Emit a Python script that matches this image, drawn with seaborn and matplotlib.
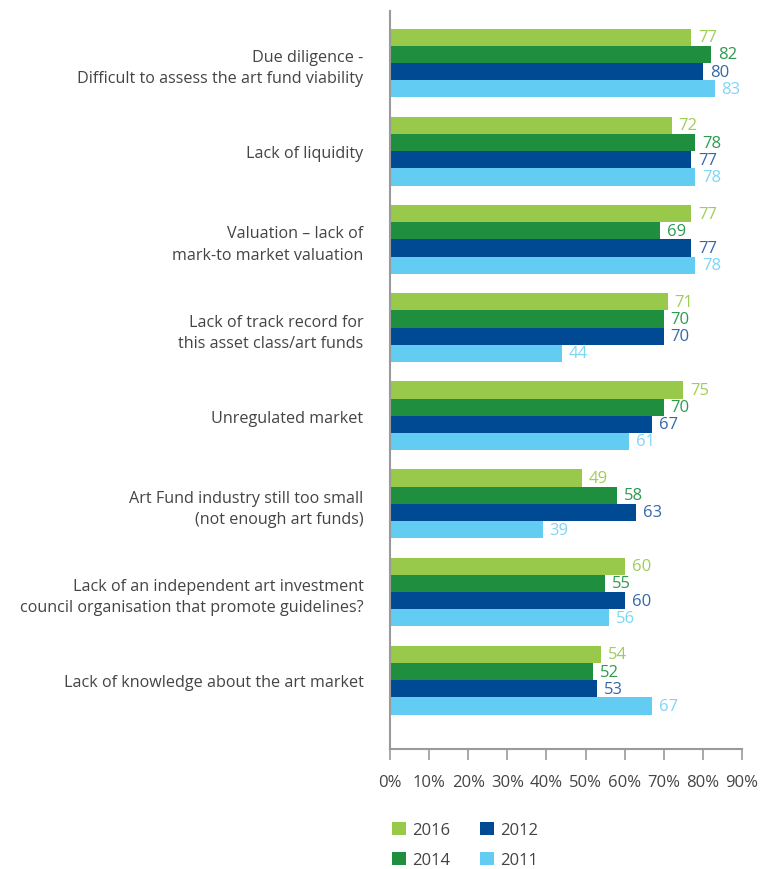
"""Art fund concerns survey: grouped horizontal bars by year."""

import matplotlib

matplotlib.use("Agg")
import matplotlib.pyplot as plt  # noqa: E402
import pandas as pd
import seaborn as sns
from matplotlib.patches import Patch

categories = [
    "Due diligence -\nDifficult to assess the art fund viability",
    "Lack of liquidity",
    "Valuation \u2013 lack of\nmark-to market valuation",
    "Lack of track record for\nthis asset class/art funds",
    "Unregulated market",
    "Art Fund industry still too small\n(not enough art funds)",
    "Lack of an independent art investment\ncouncil organisation that promote guidelines?",
    "Lack of knowledge about the art market",
]
years = ["2016", "2014", "2012", "2011"]
values_2016 = [77, 72, 77, 71, 75, 49, 60, 54]
values_2014 = [82, 78, 69, 70, 70, 58, 55, 52]
values_2012 = [80, 77, 77, 70, 67, 63, 60, 53]
values_2011 = [83, 78, 78, 44, 61, 39, 56, 67]
x_ticks = [0, 10, 20, 30, 40, 50, 60, 70, 80, 90]

bar_colors = ["#98C94A", "#1F8F3F", "#004A94", "#62CCF2"]
label_colors = ["#9FCE55", "#2E9A50", "#3568A8", "#7ED6F5"]

series = {"2016": values_2016, "2014": values_2014, "2012": values_2012, "2011": values_2011}
rows = []
for year, vals in series.items():
    for cat, v in zip(categories, vals):
        rows.append({"category": cat, "year": year, "value": v})
df = pd.DataFrame(rows)

sns.set_theme(style="white")
plt.rcParams["font.family"] = ["Open Sans", "DejaVu Sans"]

fig = plt.figure(figsize=(7.68, 8.7), dpi=100)
ax = fig.add_axes([390 / 768, 120 / 870, 352 / 768, 738 / 870])

sns.barplot(
    data=df, y="category", x="value", hue="year", hue_order=years,
    order=categories, palette=bar_colors, orient="h", width=0.78,
    saturation=1, linewidth=0, ax=ax, legend=False,
)

for cont, col in zip(ax.containers, label_colors):
    ax.bar_label(cont, fmt="%d", padding=5, color=col, fontsize=12)

ax.set_xlim(0, 90)
ax.set_ylim(7.78, -0.59)
ax.set_xticks(x_ticks)
ax.set_xticklabels([f"{t}%" for t in x_ticks])
ax.set_xlabel("")
ax.set_ylabel("")

for side in ["top", "right"]:
    ax.spines[side].set_visible(False)
for side in ["left", "bottom"]:
    ax.spines[side].set_color("#9A9A9A")
    ax.spines[side].set_linewidth(1.5)

ax.tick_params(axis="x", direction="out", length=8, width=1.2, color="#9A9A9A",
               pad=10, labelsize=12, labelcolor="#444444", bottom=True)
ax.tick_params(axis="y", length=0, pad=19, labelsize=11.6, labelcolor="#444444")
for lab in ax.get_yticklabels():
    lab.set_horizontalalignment("right")
    lab.set_linespacing(1.45)

handles = [Patch(facecolor=c, edgecolor="none", label=y) for y, c in zip(years, bar_colors)]
fig.legend(
    handles=handles, ncol=2, loc="upper left", bbox_to_anchor=(384 / 768, 55 / 870),
    frameon=False, fontsize=12, handlelength=0.8, handleheight=0.8, borderpad=0,
    handletextpad=0.4, columnspacing=1.8, labelspacing=0.8, labelcolor="#444444",
)

fig.savefig("out.png", dpi=100)
plt.close(fig)
